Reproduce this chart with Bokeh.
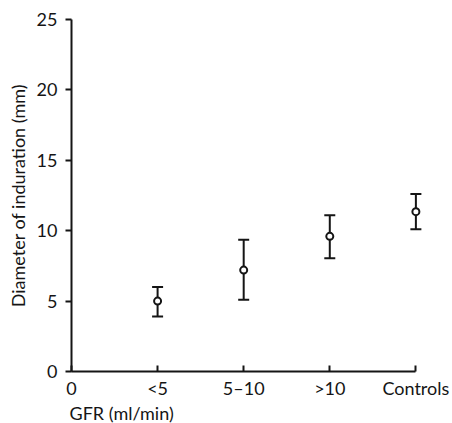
from bokeh.plotting import figure
from bokeh.models import ColumnDataSource, Whisker, TeeHead, FixedTicker, Title, Range1d
from bokeh.embed import file_html
from bokeh.resources import INLINE

# Data
categories = ["<5", "5\u201310", ">10", "Controls"]
means = [5.0, 7.2, 9.6, 11.35]
upper = [6.0, 9.35, 11.1, 12.6]
lower = [3.9, 5.1, 8.05, 10.1]
y_ticks = [0, 5, 10, 15, 20, 25]
x_title = "GFR (ml/min)"
y_title = "Diameter of induration (mm)"

FONT = "Lato"
INK = "#151515"

xs = [i + 1 for i in range(len(categories))]
src = ColumnDataSource(dict(x=xs, y=means, upper=upper, lower=lower))

p = figure(width=452, height=423, output_backend="svg", toolbar_location=None,
           x_range=Range1d(0, 4.1), y_range=Range1d(0, 25),
           min_border_left=71, min_border_right=28, min_border_top=19, min_border_bottom=52)
p.background_fill_color = "white"
p.border_fill_color = "white"
p.outline_line_color = None
p.grid.visible = False

# x axis
xa = p.xaxis[0]
xa.ticker = FixedTicker(ticks=[0] + xs)
xa.major_label_overrides = {0: "0", **{x: c for x, c in zip(xs, categories)}}
xa.bounds = (0, 4)
xa.major_tick_in = 6
xa.major_tick_out = 0
xa.minor_tick_line_color = None
xa.major_label_standoff = 5

# y axis
ya = p.yaxis[0]
ya.ticker = FixedTicker(ticks=y_ticks)
ya.major_tick_in = 0
ya.major_tick_out = 6
ya.minor_tick_line_color = None
ya.major_label_standoff = 8
ya.axis_label = y_title
ya.axis_label_standoff = 5
ya.axis_label_text_font_style = "normal"

for ax in (xa, ya):
    ax.axis_line_width = 2
    ax.axis_line_color = INK
    ax.major_tick_line_width = 2
    ax.major_tick_line_color = INK
    ax.major_label_text_font = FONT
    ax.major_label_text_font_size = "18px"
    ax.major_label_text_color = INK
    ax.axis_label_text_font = FONT
    ax.axis_label_text_font_size = "18px"
    ax.axis_label_text_color = INK

p.add_layout(Title(text=x_title, align="left", text_font=FONT, text_font_size="18px",
                   text_font_style="normal", text_color=INK, standoff=-3, offset=-2), "below")

w = Whisker(source=src, base="x", upper="upper", lower="lower",
            line_width=2, line_color=INK,
            upper_head=TeeHead(size=11, line_width=2, line_color=INK),
            lower_head=TeeHead(size=11, line_width=2, line_color=INK),
            level="underlay")
p.add_layout(w)

p.scatter("x", "y", source=src, marker="circle", size=7, fill_color="white",
          line_color=INK, line_width=2)

open("out.html", "w").write(file_html(p, INLINE))
